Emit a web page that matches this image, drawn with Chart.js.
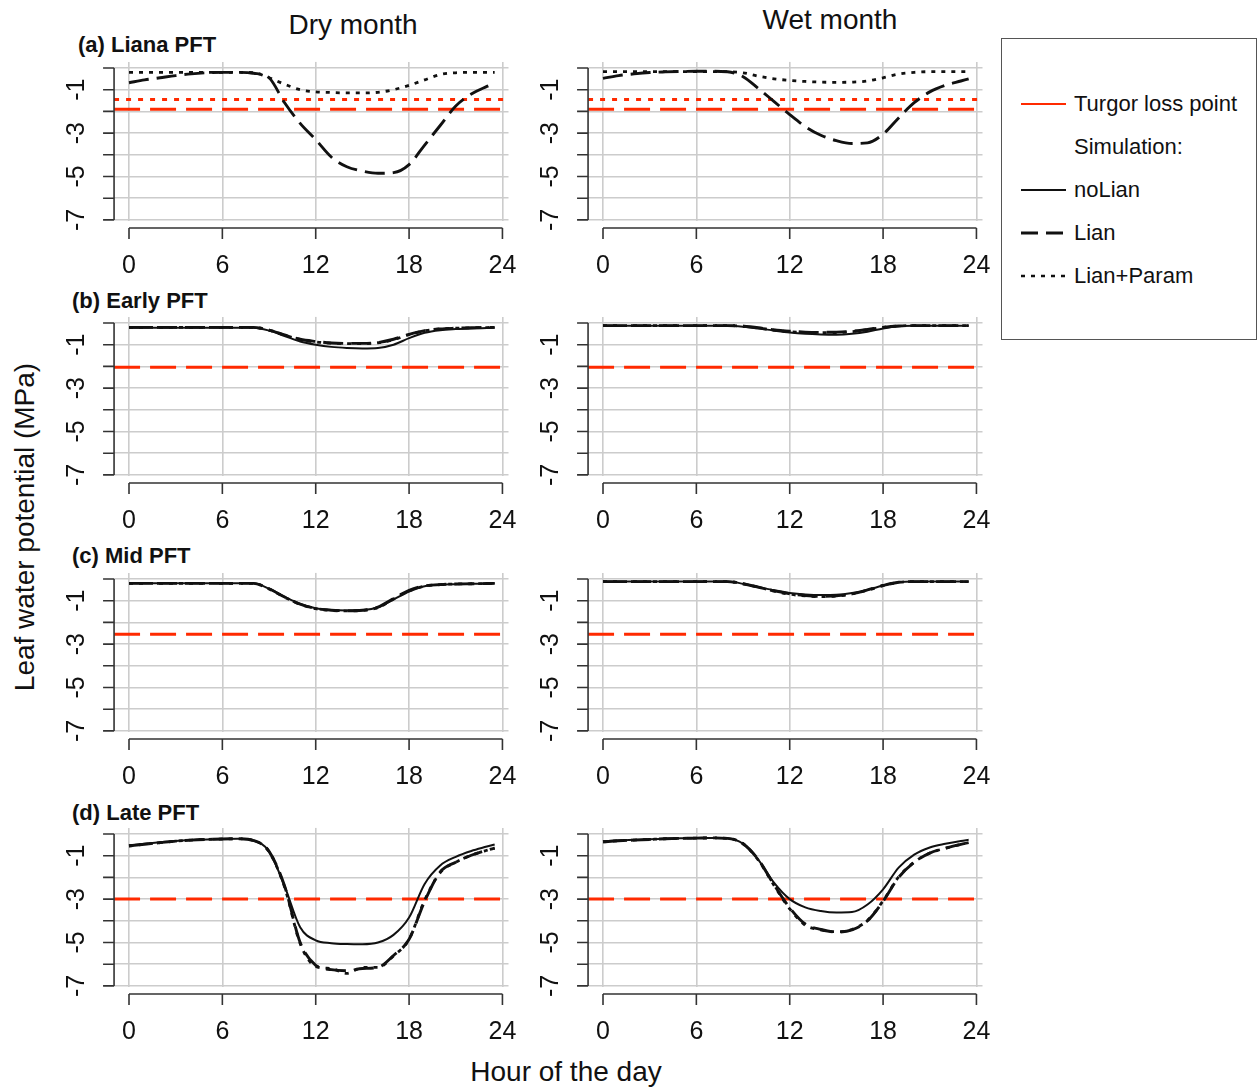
<!DOCTYPE html>
<html>
<head>
<meta charset="utf-8">
<script src="https://cdn.jsdelivr.net/npm/chart.js@4.4.1/dist/chart.umd.min.js"></script>
<style>
  body { margin: 0; background: #fff; font-family: "Liberation Sans", Arial, sans-serif; color: #111; }
  #page { position: relative; width: 1259px; height: 1089px; overflow: hidden; }
  canvas { position: absolute; }
  .txt { position: absolute; white-space: nowrap; transform: translate(-50%, -50%); }
  .head { font-size: 28px; }
  .pft { position: absolute; white-space: nowrap; font-size: 22px; font-weight: bold; transform: translateY(-50%); }
  #legend { position: absolute; left: 1001px; top: 38px; width: 254px; height: 300px; border: 1.5px solid #555; }
  #legend .row { position: absolute; left: 0; font-size: 22px; transform: translateY(-50%); }
  #legend svg { position: absolute; left: 18px; top: -3px; }
  #legend span { position: absolute; left: 72px; top: -13px; white-space: nowrap; }
</style>
</head>
<body>
<div id="page">
  <div class="txt head" style="left:353px;top:25px">Dry month</div>
  <div class="txt head" style="left:830px;top:20px">Wet month</div>
  <div class="pft" style="left:78px;top:45px">(a) Liana PFT</div>
  <div class="pft" style="left:72px;top:301px">(b) Early PFT</div>
  <div class="pft" style="left:72px;top:556px">(c) Mid PFT</div>
  <div class="pft" style="left:72px;top:813px">(d) Late PFT</div>
  <div class="txt head" style="left:25px;top:527px;transform:translate(-50%,-50%) rotate(-90deg)">Leaf water potential (MPa)</div>
  <div class="txt head" style="left:566px;top:1072px">Hour of the day</div>
  <div id="legend"></div>
</div>
<script>
// hour of the day for every simulated value
const hours = [0,1,2,3,4,5,6,7,8,9,10,11,12,13,14,15,16,17,18,19,20,21,22,23,23.5];

// leaf water potential (MPa) per PFT, month and simulation
const lianaDryLian   = [-0.68,-0.55,-0.45,-0.35,-0.27,-0.22,-0.2,-0.2,-0.24,-0.45,-1.6,-2.55,-3.3,-4.1,-4.55,-4.75,-4.85,-4.82,-4.45,-3.55,-2.65,-1.75,-1.2,-0.85,-0.7];
const lianaDryParam  = [-0.2,-0.2,-0.2,-0.2,-0.2,-0.2,-0.2,-0.2,-0.22,-0.45,-0.75,-1.0,-1.1,-1.13,-1.15,-1.15,-1.12,-1.0,-0.8,-0.55,-0.3,-0.22,-0.2,-0.2,-0.2];
const lianaWetLian   = [-0.48,-0.35,-0.27,-0.21,-0.18,-0.16,-0.15,-0.15,-0.17,-0.4,-0.95,-1.55,-2.15,-2.7,-3.1,-3.35,-3.48,-3.45,-3.05,-2.3,-1.6,-1.1,-0.8,-0.6,-0.5];
const lianaWetParam  = [-0.17,-0.17,-0.17,-0.17,-0.17,-0.17,-0.17,-0.17,-0.17,-0.22,-0.38,-0.5,-0.57,-0.62,-0.65,-0.66,-0.65,-0.6,-0.45,-0.28,-0.2,-0.17,-0.17,-0.17,-0.17];

const earlyDryNoLian = [-0.22,-0.22,-0.22,-0.22,-0.22,-0.22,-0.22,-0.22,-0.22,-0.35,-0.6,-0.85,-1.0,-1.1,-1.15,-1.17,-1.15,-1.0,-0.7,-0.45,-0.33,-0.28,-0.25,-0.23,-0.22];
const earlyDryLian   = [-0.2,-0.2,-0.2,-0.2,-0.2,-0.2,-0.2,-0.2,-0.2,-0.33,-0.55,-0.75,-0.85,-0.92,-0.94,-0.94,-0.9,-0.75,-0.52,-0.35,-0.27,-0.24,-0.22,-0.2,-0.2];
const earlyDryParam  = [-0.2,-0.2,-0.2,-0.2,-0.2,-0.2,-0.2,-0.2,-0.2,-0.33,-0.56,-0.76,-0.87,-0.93,-0.95,-0.95,-0.91,-0.77,-0.53,-0.36,-0.27,-0.24,-0.22,-0.21,-0.2];
const earlyWetNoLian = [-0.13,-0.13,-0.13,-0.13,-0.13,-0.13,-0.13,-0.13,-0.13,-0.17,-0.25,-0.35,-0.44,-0.5,-0.53,-0.54,-0.5,-0.4,-0.25,-0.15,-0.13,-0.13,-0.13,-0.13,-0.13];
const earlyWetLian   = [-0.12,-0.12,-0.12,-0.12,-0.12,-0.12,-0.12,-0.12,-0.12,-0.15,-0.22,-0.32,-0.38,-0.42,-0.43,-0.42,-0.38,-0.3,-0.2,-0.14,-0.12,-0.12,-0.12,-0.12,-0.12];
const earlyWetParam  = [-0.12,-0.12,-0.12,-0.12,-0.12,-0.12,-0.12,-0.12,-0.12,-0.15,-0.23,-0.33,-0.4,-0.44,-0.45,-0.44,-0.4,-0.31,-0.2,-0.14,-0.12,-0.12,-0.12,-0.12,-0.12];

const midDryNoLian   = [-0.2,-0.2,-0.2,-0.2,-0.2,-0.2,-0.2,-0.2,-0.2,-0.45,-0.82,-1.15,-1.35,-1.43,-1.45,-1.44,-1.3,-0.95,-0.58,-0.33,-0.26,-0.24,-0.22,-0.21,-0.2];
const midDryLian     = [-0.2,-0.2,-0.2,-0.2,-0.2,-0.2,-0.2,-0.2,-0.2,-0.45,-0.83,-1.16,-1.36,-1.44,-1.46,-1.44,-1.3,-0.9,-0.52,-0.32,-0.26,-0.23,-0.22,-0.21,-0.2];
const midDryParam    = [-0.2,-0.2,-0.2,-0.2,-0.2,-0.2,-0.2,-0.2,-0.2,-0.46,-0.84,-1.17,-1.37,-1.45,-1.47,-1.45,-1.32,-0.92,-0.55,-0.33,-0.26,-0.23,-0.22,-0.21,-0.2];
const midWetNoLian   = [-0.12,-0.12,-0.12,-0.12,-0.12,-0.12,-0.12,-0.12,-0.12,-0.22,-0.37,-0.52,-0.64,-0.71,-0.74,-0.73,-0.65,-0.5,-0.3,-0.15,-0.12,-0.12,-0.12,-0.12,-0.12];
const midWetLian     = [-0.12,-0.12,-0.12,-0.12,-0.12,-0.12,-0.12,-0.12,-0.12,-0.22,-0.38,-0.55,-0.68,-0.76,-0.8,-0.78,-0.68,-0.5,-0.3,-0.15,-0.12,-0.12,-0.12,-0.12,-0.12];
const midWetParam    = [-0.12,-0.12,-0.12,-0.12,-0.12,-0.12,-0.12,-0.12,-0.12,-0.22,-0.38,-0.56,-0.7,-0.78,-0.81,-0.79,-0.69,-0.52,-0.31,-0.15,-0.12,-0.12,-0.12,-0.12,-0.12];

const lateDryNoLian  = [-0.52,-0.45,-0.38,-0.32,-0.28,-0.25,-0.23,-0.22,-0.3,-0.8,-2.4,-4.3,-4.9,-5.03,-5.07,-5.08,-5.0,-4.65,-3.85,-2.3,-1.45,-1.05,-0.78,-0.58,-0.48];
const lateDryLian    = [-0.55,-0.47,-0.4,-0.33,-0.28,-0.25,-0.23,-0.22,-0.3,-0.8,-2.4,-5.0,-6.05,-6.25,-6.3,-6.2,-6.15,-5.6,-4.85,-3.1,-1.75,-1.3,-0.98,-0.75,-0.65];
const lateDryParam   = [-0.55,-0.47,-0.4,-0.33,-0.28,-0.25,-0.23,-0.22,-0.3,-0.82,-2.45,-5.05,-6.1,-6.2,-6.42,-6.15,-6.15,-5.62,-4.85,-3.05,-1.78,-1.3,-0.98,-0.75,-0.65];
const lateWetNoLian  = [-0.34,-0.3,-0.27,-0.24,-0.22,-0.2,-0.19,-0.18,-0.2,-0.45,-1.2,-2.25,-3.0,-3.38,-3.55,-3.62,-3.6,-3.25,-2.55,-1.55,-0.95,-0.62,-0.45,-0.32,-0.27];
const lateWetLian    = [-0.36,-0.31,-0.28,-0.25,-0.22,-0.2,-0.19,-0.18,-0.2,-0.45,-1.2,-2.35,-3.4,-4.15,-4.4,-4.52,-4.42,-4.0,-3.1,-2.0,-1.3,-0.88,-0.66,-0.48,-0.4];
const lateWetParam   = [-0.36,-0.31,-0.28,-0.25,-0.22,-0.2,-0.19,-0.18,-0.2,-0.45,-1.22,-2.38,-3.45,-4.2,-4.42,-4.5,-4.4,-3.98,-3.08,-1.98,-1.3,-0.88,-0.66,-0.48,-0.4];

// turgor loss points (MPa)
const tlpLianaLian  = -1.9;
const tlpLianaParam = -1.45;
const tlpEarly      = -2.04;
const tlpMid        = -2.55;
const tlpLate       = -3.0;

const xTicks = [0, 6, 12, 18, 24];
const yTicks = [0, -1, -2, -3, -4, -5, -6, -7];
const yLabels = [-1, -3, -5, -7];

// axis limits
const X_MIN = -0.96, X_MAX = 24.39;
const Y_MIN = -7.05, Y_MAX = 0.28;

const RED = "#ff2a00";
const INK = "#111";
const styles = {
  noLian: { borderColor: INK, borderWidth: 2, borderDash: [] },
  lian:   { borderColor: INK, borderWidth: 2.9, borderDash: [20, 8] },
  param:  { borderColor: INK, borderWidth: 2.8, borderDash: [4, 6] },
  tlp:    { borderColor: RED, borderWidth: 3, borderDash: [26, 10] },
  tlpDot: { borderColor: RED, borderWidth: 3, borderDash: [5, 7] }
};

const panels = [
  { col: 0, row: 0, lines: [["lian", lianaDryLian], ["param", lianaDryParam]], tlp: [["tlp", tlpLianaLian], ["tlpDot", tlpLianaParam]] },
  { col: 1, row: 0, lines: [["lian", lianaWetLian], ["param", lianaWetParam]], tlp: [["tlp", tlpLianaLian], ["tlpDot", tlpLianaParam]] },
  { col: 0, row: 1, lines: [["noLian", earlyDryNoLian], ["lian", earlyDryLian], ["param", earlyDryParam]], tlp: [["tlp", tlpEarly]] },
  { col: 1, row: 1, lines: [["noLian", earlyWetNoLian], ["lian", earlyWetLian], ["param", earlyWetParam]], tlp: [["tlp", tlpEarly]] },
  { col: 0, row: 2, lines: [["noLian", midDryNoLian], ["lian", midDryLian], ["param", midDryParam]], tlp: [["tlp", tlpMid]] },
  { col: 1, row: 2, lines: [["noLian", midWetNoLian], ["lian", midWetLian], ["param", midWetParam]], tlp: [["tlp", tlpMid]] },
  { col: 0, row: 3, lines: [["noLian", lateDryNoLian], ["lian", lateDryLian], ["param", lateDryParam]], tlp: [["tlp", tlpLate]] },
  { col: 1, row: 3, lines: [["noLian", lateWetNoLian], ["lian", lateWetLian], ["param", lateWetParam]], tlp: [["tlp", tlpLate]] }
];

// page position of hour 0 per column and of 0 MPa per row
const colX0 = [129, 603];
const rowY0 = [68, 323, 578.5, 834.3];
const PX_HOUR = 15.56, PX_MPA = 21.7;
const CW = 474, CH = 245, LEFT_GAP = 70, TOP_GAP = 28;

// base-R style detached axes, placed with the chart's own scales
const rAxes = {
  id: "rAxes",
  afterDraw(chart) {
    const { ctx, chartArea, scales: { x, y } } = chart;
    const ax = chartArea.left;
    const ay = chartArea.bottom + 7;
    ctx.save();
    ctx.strokeStyle = "#333";
    ctx.lineWidth = 1.6;
    ctx.beginPath();
    ctx.moveTo(ax, y.getPixelForValue(0));
    ctx.lineTo(ax, y.getPixelForValue(-7));
    yTicks.forEach(v => { const p = y.getPixelForValue(v); ctx.moveTo(ax, p); ctx.lineTo(ax - 11, p); });
    ctx.moveTo(x.getPixelForValue(0), ay);
    ctx.lineTo(x.getPixelForValue(24), ay);
    xTicks.forEach(v => { const p = x.getPixelForValue(v); ctx.moveTo(p, ay); ctx.lineTo(p, ay + 11); });
    ctx.stroke();

    ctx.fillStyle = INK;
    ctx.font = '25px "Liberation Sans", Arial, sans-serif';
    ctx.textAlign = "center";
    ctx.textBaseline = "middle";
    xTicks.forEach(v => ctx.fillText(String(v), x.getPixelForValue(v), ay + 38));
    yLabels.forEach(v => {
      ctx.save();
      ctx.translate(ax - 37, y.getPixelForValue(v));
      ctx.rotate(-Math.PI / 2);
      ctx.fillText(String(v), 0, 0);
      ctx.restore();
    });
    ctx.restore();
  }
};

const page = document.getElementById("page");

panels.forEach(pn => {
  const cv = document.createElement("canvas");
  cv.width = CW; cv.height = CH;
  cv.style.left = (colX0[pn.col] - LEFT_GAP) + "px";
  cv.style.top = (rowY0[pn.row] - TOP_GAP) + "px";
  page.appendChild(cv);

  const padL = LEFT_GAP + X_MIN * PX_HOUR;
  const padR = CW - LEFT_GAP - X_MAX * PX_HOUR;
  const padT = TOP_GAP - Y_MAX * PX_MPA;
  const padB = CH - padT - (Y_MAX - Y_MIN) * PX_MPA;

  const datasets = [];
  pn.tlp.forEach(([kind, v]) => datasets.push({
    ...styles[kind], data: [{ x: X_MIN, y: v }, { x: X_MAX, y: v }], order: 10, borderCapStyle: "butt"
  }));
  pn.lines.forEach(([kind, vals], i) => datasets.push({
    ...styles[kind], data: hours.map((h, k) => ({ x: h, y: vals[k] })),
    order: i + 1, cubicInterpolationMode: "monotone", borderCapStyle: "butt", borderJoinStyle: "round"
  }));

  new Chart(cv, {
    type: "line",
    data: { datasets },
    options: {
      responsive: false,
      animation: false,
      events: [],
      layout: { padding: { left: padL, right: padR, top: padT, bottom: padB } },
      elements: { point: { radius: 0 } },
      plugins: { legend: { display: false }, tooltip: { enabled: false } },
      scales: {
        x: {
          type: "linear", min: X_MIN, max: X_MAX,
          ticks: { display: false, stepSize: 6, includeBounds: false },
          grid: { color: "#cccccc", lineWidth: 1.6, drawTicks: false },
          border: { display: false }
        },
        y: {
          type: "linear", min: Y_MIN, max: Y_MAX,
          ticks: { display: false, stepSize: 1, includeBounds: false },
          grid: { color: "#cccccc", lineWidth: 1.6, drawTicks: false },
          border: { display: false }
        }
      }
    },
    plugins: [rAxes]
  });
});

// legend box
const legendRows = [
  { label: "Turgor loss point", stroke: RED, width: 2, dash: "" },
  { label: "Simulation:", stroke: null },
  { label: "noLian", stroke: INK, width: 2.2, dash: "" },
  { label: "Lian", stroke: INK, width: 2.8, dash: "17 8" },
  { label: "Lian+Param", stroke: INK, width: 2.4, dash: "4 6" }
];
const legend = document.getElementById("legend");
legendRows.forEach((r, i) => {
  const row = document.createElement("div");
  row.className = "row";
  row.style.top = (65 + i * 43) + "px";
  if (r.stroke) {
    row.innerHTML = `<svg width="48" height="6"><line x1="1" y1="3" x2="46" y2="3" stroke="${r.stroke}" stroke-width="${r.width}" stroke-dasharray="${r.dash}"/></svg>`;
  }
  const s = document.createElement("span");
  s.textContent = r.label;
  row.appendChild(s);
  legend.appendChild(row);
});
</script>
</body>
</html>
